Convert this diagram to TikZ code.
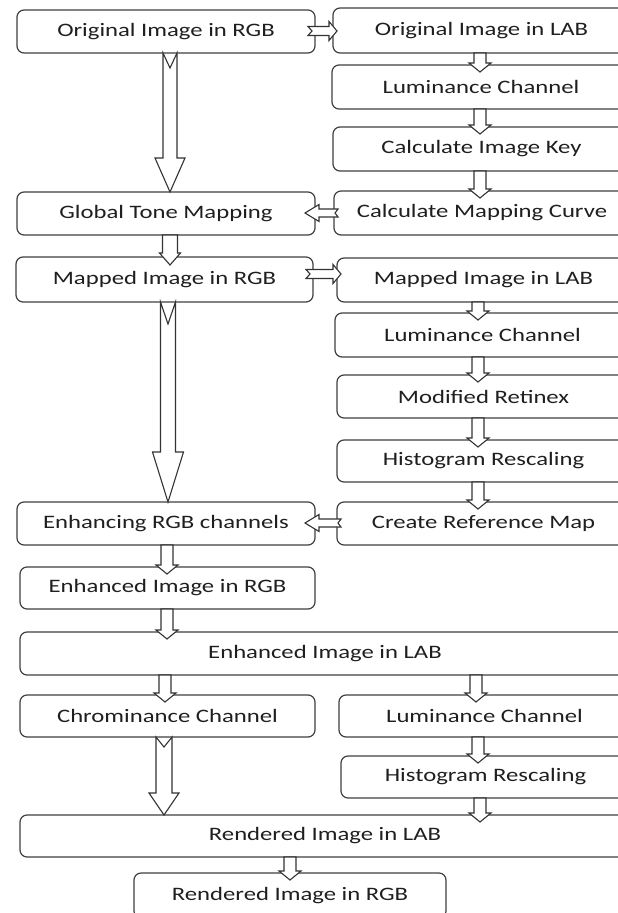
\documentclass[tikz,border=0pt]{standalone}
\usepackage{fontspec}
\setmainfont{Carlito}[FakeStretch=1.3]
\usetikzlibrary{calc}
\tikzset{
  boxst/.style={draw=black!75, line width=1.2pt, rounded corners=7pt, fill=white,
    inner sep=0pt, outer sep=0pt, font=\fontsize{19}{22}\selectfont, text=black!88},
  arrst/.style={draw=black!80, line width=1.1pt, fill=white, line join=miter},
}
% box: name, x1, y1, x2, y2, text (pixels, y downward)
\newcommand\bx[6]{\node[boxst, minimum width={(#4-#2)*1pt}, minimum height={(#5-#3)*1pt}] (#1) at ({(#2+#4)/2},{(#3+#5)/2}) {#6};}
% down arrow: from, to, x, shaft half, head half, head base above target top, tip below target top, notch
\newcommand\dnar[8]{\draw[arrst] let \p1=(#1.south), \p2=(#2.north) in
  (#3pt-#4pt,\y1) -- (#3pt-#4pt,\y2+#6pt) -- (#3pt-#5pt,\y2+#6pt) -- (#3pt,\y2-#7pt)
  -- (#3pt+#5pt,\y2+#6pt) -- (#3pt+#4pt,\y2+#6pt) -- (#3pt+#4pt,\y1) -- (#3pt,\y1-#8pt) -- cycle;}
% right arrow: left node, right node, y
\newcommand\rar[3]{\draw[arrst] let \p1=(#1.east), \p2=(#2.west) in
  (\x1-7pt,-#3pt+4.5pt) -- (\x2-4pt,-#3pt+4.5pt) -- (\x2-4pt,-#3pt+9.5pt) -- (\x2+4pt,-#3pt)
  -- (\x2-4pt,-#3pt-9.5pt) -- (\x2-4pt,-#3pt-4.5pt) -- (\x1-7pt,-#3pt-4.5pt) -- (\x1-3pt,-#3pt) -- cycle;}
% left arrow: right node, left node, y
\newcommand\lar[3]{\draw[arrst] let \p1=(#1.west), \p2=(#2.east) in
  (\x1+4pt,-#3pt+4pt) -- (\x2+4pt,-#3pt+4pt) -- (\x2+4pt,-#3pt+8.5pt) -- (\x2-10pt,-#3pt)
  -- (\x2+4pt,-#3pt-8.5pt) -- (\x2+4pt,-#3pt-4pt) -- (\x1+4pt,-#3pt-4pt) -- (\x1+1pt,-#3pt) -- cycle;}
\begin{document}
\begin{tikzpicture}[x=1pt,y=-1pt]
\useasboundingbox (0,0) rectangle (618,913);
\clip (0,0) rectangle (618,913);
\fill[white] (0,0) rectangle (618,913);
% boxes
\bx{origRGB}{17}{10}{315}{53}{Original Image in RGB}
\bx{origLAB}{333}{8}{630}{53}{Original Image in LAB}
\bx{lumA}{332}{65}{630}{109}{Luminance Channel}
\bx{calcKey}{333}{127}{630}{171}{Calculate Image Key}
\bx{calcCurve}{334}{191}{630}{235}{Calculate Mapping Curve}
\bx{globalTone}{17}{192}{315}{235}{Global Tone Mapping}
\bx{mappedRGB}{16}{257}{313}{302}{Mapped Image in RGB}
\bx{mappedLAB}{337}{258}{630}{302}{Mapped Image in LAB}
\bx{lumB}{335}{313}{630}{357}{Luminance Channel}
\bx{retinex}{337}{375}{630}{418}{Modified Retinex}
\bx{histA}{337}{440}{630}{482}{Histogram Rescaling}
\bx{refMap}{337}{502}{630}{545}{Create Reference Map}
\bx{enhancing}{17}{502}{315}{545}{Enhancing RGB channels}
\bx{enhRGB}{20}{567}{315}{609}{Enhanced Image in RGB}
\bx{enhLAB}{20}{632}{630}{675}{Enhanced Image in LAB}
\bx{chrom}{20}{695}{315}{737}{Chrominance Channel}
\bx{lumC}{339}{695}{630}{737}{Luminance Channel}
\bx{histB}{341}{756}{630}{798}{Histogram Rescaling}
\bx{rendLAB}{20}{815}{630}{857}{Rendered Image in LAB}
\bx{rendRGB}{134}{873}{446}{918}{Rendered Image in RGB}
% horizontal arrows
\rar{origRGB}{origLAB}{31}
\lar{calcCurve}{globalTone}{213}
\rar{mappedRGB}{mappedLAB}{274}
\lar{refMap}{enhancing}{523}
% big arrows
\dnar{origRGB}{globalTone}{170}{7}{15}{34}{0}{15}
\dnar{mappedRGB}{enhancing}{168}{7.5}{15.5}{50}{0}{22}
\dnar{chrom}{rendLAB}{164}{8}{15}{22}{0}{10}
% medium / small arrows
\dnar{globalTone}{mappedRGB}{170}{7.5}{10.5}{4}{8}{0}
\dnar{origLAB}{lumA}{480}{6}{11}{2}{7}{0}
\dnar{lumA}{calcKey}{480}{6}{11}{2}{7}{0}
\dnar{calcKey}{calcCurve}{480}{6}{11}{2}{7}{0}
\dnar{mappedLAB}{lumB}{478}{6}{11}{2}{7}{0}
\dnar{lumB}{retinex}{478}{6}{11}{2}{7}{0}
\dnar{retinex}{histA}{478}{6}{11}{2}{7}{0}
\dnar{histA}{refMap}{478}{6}{11}{2}{7}{0}
\dnar{enhancing}{enhRGB}{167}{6}{11}{2}{7}{0}
\dnar{enhRGB}{enhLAB}{167}{6}{11}{2}{7}{0}
\dnar{enhLAB}{chrom}{165}{6}{11}{2}{7}{0}
\dnar{enhLAB}{lumC}{476}{6}{11}{2}{7}{0}
\dnar{lumC}{histB}{478}{6}{11}{2}{7}{0}
\dnar{histB}{rendLAB}{480}{6}{11}{2}{7}{0}
\dnar{rendLAB}{rendRGB}{290}{6}{11}{2}{7}{0}
\end{tikzpicture}
\end{document}
